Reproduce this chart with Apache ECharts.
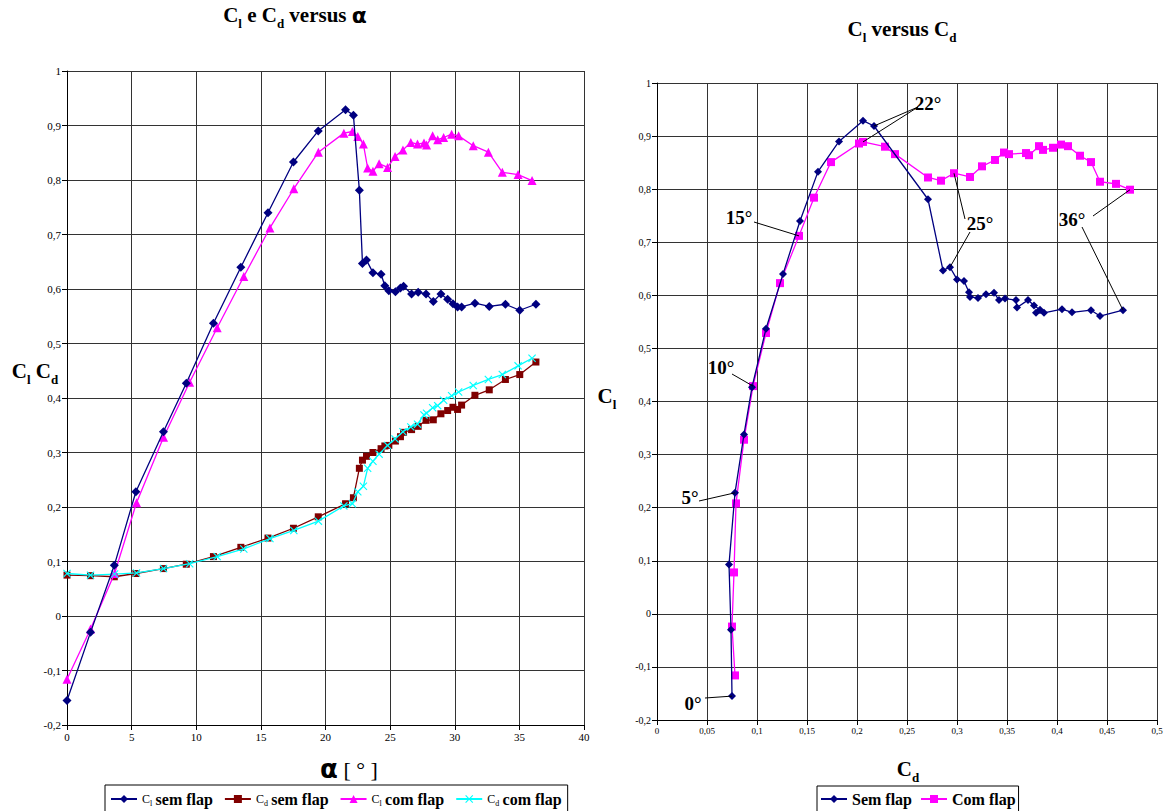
<!DOCTYPE html>
<html>
<head>
<meta charset="utf-8">
<script src="https://cdn.jsdelivr.net/npm/echarts@6/dist/echarts.min.js"></script>
<style>
  html, body { margin: 0; padding: 0; background: #fff; }
  #main { width: 1167px; height: 811px; }
</style>
</head>
<body>
<div id="main"></div>
<script>
// dados - sem flap
const alphaSem = [0, 1.82, 3.66, 5.33, 7.46, 9.23, 11.33, 13.45, 15.55, 17.52, 19.44, 21.55, 22.16, 22.62, 22.86, 23.17, 23.67, 24.30, 24.59, 24.90, 25.41, 25.80, 26.04, 26.66, 27.17, 27.78, 28.34, 28.93, 29.45, 29.86, 30.22, 30.53, 31.56, 32.67, 33.92, 35.03, 36.28];
const clSem = [-0.155, -0.030, 0.093, 0.228, 0.338, 0.427, 0.537, 0.640, 0.740, 0.833, 0.890, 0.929, 0.919, 0.781, 0.647, 0.653, 0.630, 0.627, 0.606, 0.597, 0.595, 0.602, 0.605, 0.591, 0.594, 0.591, 0.577, 0.591, 0.581, 0.573, 0.567, 0.567, 0.574, 0.568, 0.572, 0.561, 0.572];
const cdSem = [0.075, 0.074, 0.072, 0.078, 0.087, 0.095, 0.109, 0.126, 0.143, 0.161, 0.182, 0.206, 0.217, 0.271, 0.286, 0.293, 0.300, 0.307, 0.312, 0.313, 0.321, 0.329, 0.337, 0.342, 0.348, 0.359, 0.360, 0.371, 0.377, 0.383, 0.379, 0.387, 0.405, 0.415, 0.434, 0.443, 0.466];

// com flap
const alphaCom = [0, 1.82, 3.68, 5.38, 7.47, 9.49, 11.62, 13.68, 15.70, 17.55, 19.45, 21.42, 22.08, 22.50, 22.93, 23.26, 23.67, 24.15, 24.80, 25.38, 25.99, 26.60, 27.12, 27.62, 27.82, 28.29, 28.68, 29.14, 29.76, 30.30, 31.43, 32.60, 33.68, 34.90, 35.98];
const clCom = [-0.116, -0.024, 0.078, 0.208, 0.328, 0.429, 0.529, 0.623, 0.712, 0.784, 0.851, 0.886, 0.889, 0.880, 0.866, 0.822, 0.816, 0.830, 0.823, 0.843, 0.855, 0.869, 0.866, 0.868, 0.864, 0.881, 0.874, 0.878, 0.884, 0.881, 0.863, 0.851, 0.814, 0.810, 0.799];
const cdCom = [0.078, 0.075, 0.077, 0.079, 0.087, 0.096, 0.109, 0.123, 0.142, 0.157, 0.174, 0.202, 0.206, 0.228, 0.238, 0.271, 0.284, 0.297, 0.313, 0.325, 0.338, 0.347, 0.352, 0.369, 0.372, 0.382, 0.386, 0.396, 0.404, 0.411, 0.423, 0.434, 0.443, 0.459, 0.473];

// anotações do gráfico Cl x Cd: texto, série ('sem'/'com') e índice do ponto
const angleLabels = ['0°', '5°', '10°', '15°', '22°', '25°', '36°'];
const angleTargets = [
    [['sem', 0]],
    [['sem', 3]],
    [['com', 5]],
    [['com', 8]],
    [['sem', 12], ['com', 12]],
    [['com', 17], ['sem', 15]],
    [['com', 34], ['sem', 36]]
];

const serif = 'Liberation Serif';
const navy = '#000080', darkRed = '#800000', magenta = '#FF00FF', cyan = '#00FFFF';
const xSymbol = 'path://M0,1L1,0L5,4L9,0L10,1L6,5L10,9L9,10L5,6L1,10L0,9L4,5Z';

function comma(v) {
    return String(Number(v.toFixed(2))).replace('.', ',');
}

function pairs(xs, ys) {
    return xs.map((x, i) => [x, ys[i]]);
}

const richBig = {
    c: { fontFamily: serif, fontWeight: 'bold', fontSize: 21, color: '#000', verticalAlign: 'bottom', padding: [0, 0, 5, 0] },
    s: { fontFamily: serif, fontWeight: 'bold', fontSize: 13, color: '#000', verticalAlign: 'bottom' },
    g: { fontFamily: 'DejaVu Sans', fontWeight: 'bold', fontSize: 22, color: '#000', verticalAlign: 'bottom', padding: [0, 0, 4, 0] }
};

const legendNames = {
    'Cl sem flap': '{c|C}{s|l} {b|sem flap}',
    'Cd sem flap': '{c|C}{s|d} {b|sem flap}',
    'Cl com flap': '{c|C}{s|l} {b|com flap}',
    'Cd com flap': '{c|C}{s|d} {b|com flap}'
};

function axisCommon(min, max, interval, fontSize) {
    return {
        type: 'value', min: min, max: max, interval: interval,
        axisLine: { show: true, onZero: false, lineStyle: { color: '#000', width: 1 } },
        axisTick: { show: true, length: 5, lineStyle: { color: '#000' } },
        axisLabel: { color: '#000', fontFamily: serif, fontSize: fontSize, formatter: comma, margin: 6 },
        splitLine: { show: true, lineStyle: { color: '#333', width: 1 } }
    };
}

const myChart = echarts.init(document.getElementById('main'), null, { renderer: 'svg' });

const lineBase = { type: 'line', lineStyle: { width: 1.3 }, emphasis: { disabled: true } };

myChart.setOption({
    animation: false,
    backgroundColor: '#fff',
    grid: [
        { left: 67, top: 71, width: 517, height: 654 },
        { left: 657, top: 83, width: 500, height: 637 }
    ],
    xAxis: [
        Object.assign(axisCommon(0, 40, 5, 11), { gridIndex: 0 }),
        Object.assign(axisCommon(0, 0.5, 0.05, 9), { gridIndex: 1 })
    ],
    yAxis: [
        Object.assign(axisCommon(-0.2, 1, 0.1, 11), { gridIndex: 0 }),
        Object.assign(axisCommon(-0.2, 1, 0.1, 10), { gridIndex: 1 })
    ],
    legend: [{
        data: ['Cl sem flap', 'Cd sem flap', 'Cl com flap', 'Cd com flap'],
        left: 105, top: 785,
        itemWidth: 26, itemHeight: 10, itemGap: 11,
        padding: [6, 6, 8, 5],
        borderColor: '#000', borderWidth: 1,
        formatter: n => legendNames[n],
        textStyle: {
            rich: {
                c: { fontFamily: serif, fontSize: 12, color: '#000', verticalAlign: 'bottom', padding: [0, 0, 2, 0] },
                s: { fontFamily: serif, fontSize: 8, color: '#000', verticalAlign: 'bottom' },
                b: { fontFamily: serif, fontSize: 16, fontWeight: 'bold', color: '#000', verticalAlign: 'bottom' }
            }
        }
    }, {
        data: ['Sem flap', 'Com flap'],
        left: 817, top: 786,
        itemWidth: 26, itemHeight: 10, itemGap: 8,
        padding: [5, 3, 8, 3],
        borderColor: '#000', borderWidth: 1,
        textStyle: { fontFamily: serif, fontSize: 16, fontWeight: 'bold', color: '#000' }
    }],
    graphic: [
        { type: 'text', x: 295, y: 30, style: { text: '{c|C}{s|l}{c| e C}{s|d}{c| versus }{g|α}', rich: richBig, align: 'center', verticalAlign: 'bottom' } },
        { type: 'text', x: 902, y: 44, style: { text: '{c|C}{s|l}{c| versus C}{s|d}', rich: richBig, align: 'center', verticalAlign: 'bottom' } },
        { type: 'text', x: 35, y: 386, style: { text: '{c|C}{s|l}{c| C}{s|d}', rich: richBig, align: 'center', verticalAlign: 'bottom' } },
        { type: 'text', x: 607, y: 411, style: { text: '{c|C}{s|l}', rich: richBig, align: 'center', verticalAlign: 'bottom' } },
        { type: 'text', x: 349, y: 782, style: {
            text: '{a|α}{b| [ ° ]}', align: 'center', verticalAlign: 'bottom',
            rich: {
                a: { fontFamily: 'DejaVu Sans', fontWeight: 'bold', fontSize: 26, color: '#000', verticalAlign: 'bottom' },
                b: { fontFamily: serif, fontSize: 22, color: '#000', verticalAlign: 'bottom', padding: [0, 0, 2, 0] }
            }
        } },
        { type: 'text', x: 908, y: 784, style: { text: '{c|C}{s|d}', rich: richBig, align: 'center', verticalAlign: 'bottom' } }
    ],
    series: [
        Object.assign({}, lineBase, {
            name: 'Cl sem flap', xAxisIndex: 0, yAxisIndex: 0, data: pairs(alphaSem, clSem),
            color: navy, symbol: 'diamond', symbolSize: 9, z: 4
        }),
        Object.assign({}, lineBase, {
            name: 'Cd sem flap', xAxisIndex: 0, yAxisIndex: 0, data: pairs(alphaSem, cdSem),
            color: darkRed, symbol: 'rect', symbolSize: 7, z: 2
        }),
        Object.assign({}, lineBase, {
            name: 'Cl com flap', xAxisIndex: 0, yAxisIndex: 0, data: pairs(alphaCom, clCom),
            color: magenta, symbol: 'triangle', symbolSize: 9, z: 3
        }),
        Object.assign({}, lineBase, {
            name: 'Cd com flap', xAxisIndex: 0, yAxisIndex: 0, data: pairs(alphaCom, cdCom),
            color: cyan, symbol: xSymbol, symbolSize: 8, z: 3
        }),
        Object.assign({}, lineBase, {
            name: 'Sem flap', xAxisIndex: 1, yAxisIndex: 1, data: pairs(cdSem, clSem),
            color: navy, symbol: 'diamond', symbolSize: 8, z: 4
        }),
        Object.assign({}, lineBase, {
            name: 'Com flap', xAxisIndex: 1, yAxisIndex: 1, data: pairs(cdCom, clCom),
            color: magenta, symbol: 'rect', symbolSize: 8, z: 3
        })
    ]
});

// posição dos textos das anotações e onde começa cada linha
const labelPos = [[693, 703], [690, 497], [721, 367], [739, 217], [928, 103], [980, 223], [1072, 219]];
const lineStart = [
    [[705, 698]],
    [[699, 501]],
    [[732, 374]],
    [[754, 222]],
    [[918, 107], [918, 107]],
    [[965, 219], [970, 232]],
    [[1093, 216], [1082, 227]]
];

const extra = [];
angleLabels.forEach((txt, k) => {
    extra.push({
        type: 'text', x: labelPos[k][0], y: labelPos[k][1], z: 10,
        style: { text: txt, fontFamily: serif, fontWeight: 'bold', fontSize: 19, fill: '#000', align: 'center', verticalAlign: 'middle' }
    });
    angleTargets[k].forEach((t, j) => {
        const pt = t[0] === 'sem' ? [cdSem[t[1]], clSem[t[1]]] : [cdCom[t[1]], clCom[t[1]]];
        const px = myChart.convertToPixel({ xAxisIndex: 1, yAxisIndex: 1 }, pt);
        extra.push({
            type: 'line', z: 10,
            shape: { x1: lineStart[k][j][0], y1: lineStart[k][j][1], x2: px[0], y2: px[1] },
            style: { stroke: '#000', lineWidth: 1 }
        });
    });
});

myChart.setOption({ graphic: extra.map((e, i) => Object.assign({ id: 'ann' + i }, e)) });
</script>
</body>
</html>
